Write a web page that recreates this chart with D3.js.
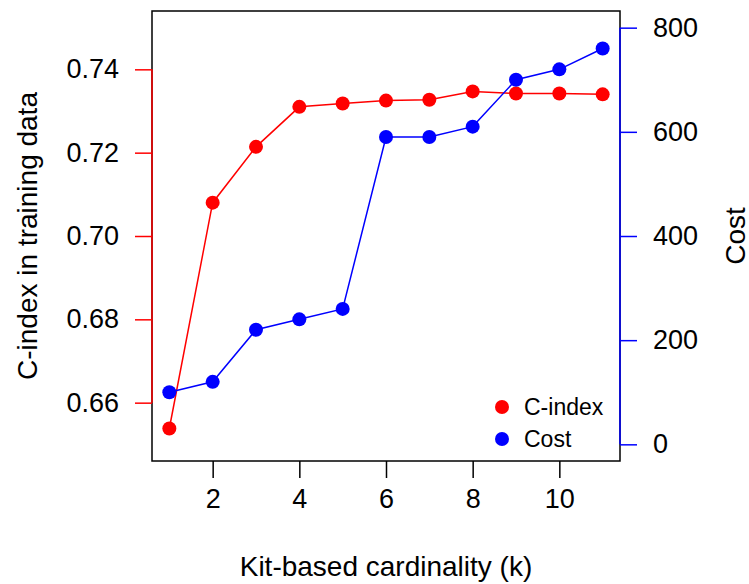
<!DOCTYPE html>
<html>
<head>
<meta charset="utf-8">
<script src="https://cdn.jsdelivr.net/npm/d3@7"></script>
<style>
  html, body { margin: 0; padding: 0; background: #fff; }
  svg text { font-family: "Liberation Sans", Arial, sans-serif; fill: #000; }
</style>
</head>
<body>
<svg id="chart" width="749" height="584"></svg>
<script>
// Kit-based cardinality vs. training C-index and cost
const kValues = [1, 2, 3, 4, 5, 6, 7, 8, 9, 10, 11];
const cIndex = [0.6538, 0.7080, 0.7214, 0.7310, 0.7318, 0.7325, 0.7327, 0.7347, 0.7342, 0.7342, 0.7340];
const cost = [100, 120, 220, 240, 260, 590, 590, 610, 700, 720, 760];
const xTicks = [2, 4, 6, 8, 10];
const leftTicks = [0.66, 0.68, 0.70, 0.72, 0.74];
const rightTicks = [0, 200, 400, 600, 800];
const legendLabels = ["C-index", "Cost"];

const RED = "#ff0000", BLUE = "#0000ff";
const svg = d3.select("#chart");
const plot = { left: 152, right: 620, top: 11, bottom: 461 };

// R-style 4% padding on each range
function padded(lo, hi) { const d = (hi - lo) * 0.04; return [lo - d, hi + d]; }

const x = d3.scaleLinear().domain(padded(1, 11)).range([plot.left, plot.right]);
const yL = d3.scaleLinear().domain(padded(0.65, 0.75)).range([plot.bottom, plot.top]);
const yR = d3.scaleLinear().domain(padded(0, 800)).range([plot.bottom, plot.top]);

const tickLen = 17, fs = 27, titleFs = 28;

// plot box
svg.append("rect")
  .attr("x", plot.left).attr("y", plot.top)
  .attr("width", plot.right - plot.left).attr("height", plot.bottom - plot.top)
  .attr("fill", "none").attr("stroke", "#000").attr("stroke-width", 1.5);

function styleAxis(g, color) {
  g.select(".domain").attr("stroke", color).attr("stroke-width", 1.5);
  g.selectAll(".tick line").attr("stroke", color).attr("stroke-width", 1.5);
  g.selectAll(".tick text").attr("fill", "#000").attr("font-size", fs)
    .attr("font-family", "Liberation Sans, Arial, sans-serif");
}

// bottom axis
const gx = svg.append("g").attr("transform", `translate(0,${plot.bottom})`)
  .call(d3.axisBottom(x).tickValues(xTicks).tickFormat(d3.format("d"))
    .tickSizeInner(tickLen).tickSizeOuter(0).tickPadding(11));
gx.select(".domain").remove();
styleAxis(gx, "#000");

// left axis (red)
const gl = svg.append("g").attr("transform", `translate(${plot.left},0)`)
  .call(d3.axisLeft(yL).tickValues(leftTicks).tickFormat(d3.format(".2f"))
    .tickSizeInner(tickLen).tickSizeOuter(0).tickPadding(16));
gl.select(".domain").attr("d", `M0,${yL(0.66)}V${yL(0.74)}`);
styleAxis(gl, RED);

// right axis (blue)
const gr = svg.append("g").attr("transform", `translate(${plot.right},0)`)
  .call(d3.axisRight(yR).tickValues(rightTicks).tickFormat(d3.format("d"))
    .tickSizeInner(tickLen).tickSizeOuter(0).tickPadding(16));
gr.select(".domain").attr("d", `M0,${yR(0)}V${yR(800)}`);
styleAxis(gr, BLUE);

// axis titles
svg.append("text").attr("x", (plot.left + plot.right) / 2).attr("y", 576)
  .attr("text-anchor", "middle").attr("font-size", titleFs).text("Kit-based cardinality (k)");
svg.append("text").attr("transform", `translate(37,${(plot.top + plot.bottom) / 2}) rotate(-90)`)
  .attr("text-anchor", "middle").attr("font-size", titleFs).text("C-index in training data");
svg.append("text").attr("transform", `translate(745,${(plot.top + plot.bottom) / 2}) rotate(-90)`)
  .attr("text-anchor", "middle").attr("font-size", titleFs).text("Cost");

// series
const series = [
  { values: cIndex, y: yL, color: RED },
  { values: cost, y: yR, color: BLUE }
];
series.forEach(s => {
  const line = d3.line().x((d, i) => x(kValues[i])).y(d => s.y(d));
  svg.append("path").datum(s.values).attr("d", line)
    .attr("fill", "none").attr("stroke", s.color).attr("stroke-width", 1.5);
  svg.append("g").selectAll("circle").data(s.values).join("circle")
    .attr("cx", (d, i) => x(kValues[i])).attr("cy", d => s.y(d))
    .attr("r", 7).attr("fill", s.color);
});

// legend
const legend = svg.append("g");
legendLabels.forEach((lab, i) => {
  const cy = 407 + i * 32;
  legend.append("circle").attr("cx", 502).attr("cy", cy).attr("r", 7)
    .attr("fill", series[i].color);
  legend.append("text").attr("x", 524).attr("y", cy).attr("dy", "0.35em")
    .attr("font-size", 23).text(lab);
});
</script>
</body>
</html>
